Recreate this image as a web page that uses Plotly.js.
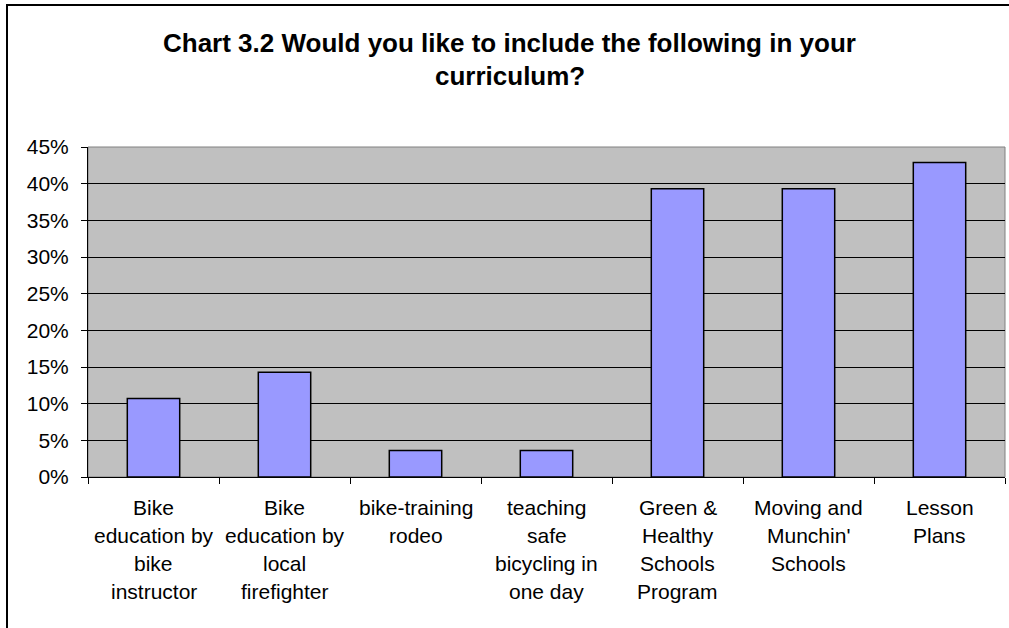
<!DOCTYPE html>
<html>
<head>
<meta charset="utf-8">
<script src="https://cdn.plot.ly/plotly-3.0.1.min.js"></script>
<style>
  html, body { margin: 0; padding: 0; overflow: hidden; background: #fff; }
  #wrap { position: relative; width: 1009px; height: 628px; overflow: hidden; }
  #chart { width: 1009px; height: 628px; }
  #frame { position: absolute; left: 6px; top: 4px; width: 1200px; height: 800px;
           border: 2px solid #000; pointer-events: none; }
</style>
</head>
<body>
<div id="wrap"><div id="chart"></div><div id="frame"></div></div>
<script>
const titleLines = ["Chart 3.2 Would you like to include the following in your", "curriculum?"];
const categories = [
  "Bike<br>education by<br>bike<br>instructor",
  "Bike<br>education by<br>local<br>firefighter",
  "bike-training<br>rodeo",
  "teaching<br>safe<br>bicycling in<br>one day",
  "Green &<br>Healthy<br>Schools<br>Program",
  "Moving and<br>Munchin'<br>Schools",
  "Lesson<br>Plans"
];
const values = [0.107, 0.143, 0.036, 0.036, 0.393, 0.393, 0.429];
const yTickVals = [0, 0.05, 0.10, 0.15, 0.20, 0.25, 0.30, 0.35, 0.40, 0.45];
const yTickText = ["0%", "5%", "10%", "15%", "20%", "25%", "30%", "35%", "40%", "45%"];

const FONT = "Liberation Sans, Arial, sans-serif";
const annotations = [];
// title lines
titleLines.forEach((t, j) => {
  annotations.push({
    text: "<b>" + t + "</b>", xref: "paper", yref: "paper", x: 0.46, y: 1,
    xanchor: "center", yanchor: "middle", yshift: 104 - j * 33, showarrow: false,
    font: { family: FONT, size: 26, color: "#000" }
  });
});
// category label lines
categories.forEach((c, i) => {
  c.split("<br>").forEach((line, j) => {
    annotations.push({
      text: line, xref: "x", yref: "paper", x: i, y: 0,
      xanchor: "center", yanchor: "middle", yshift: -30 - j * 28, showarrow: false,
      font: { family: FONT, size: 21, color: "#000" }
    });
  });
});

const trace = {
  type: "bar",
  x: categories.map((c, i) => i),
  y: values,
  marker: { color: "#9999FF", line: { color: "#000", width: 1.5 } },
  hoverinfo: "skip"
};

const layout = {
  width: 1009, height: 628,
  margin: { l: 88, r: 4, t: 147, b: 151 },
  paper_bgcolor: "#ffffff",
  plot_bgcolor: "#C0C0C0",
  showlegend: false,
  bargap: 0.6,
  font: { family: FONT, size: 21, color: "#000" },
  xaxis: {
    type: "linear", range: [-0.5, 6.5],
    tickvals: [-0.5, 0.5, 1.5, 2.5, 3.5, 4.5, 5.5, 6.5],
    showticklabels: false,
    ticks: "outside", ticklen: 6, tickcolor: "#000", tickwidth: 1,
    showgrid: false, zeroline: false,
    showline: true, linecolor: "#000", linewidth: 1
  },
  yaxis: {
    range: [0, 0.45],
    tickvals: yTickVals, ticktext: yTickText,
    ticks: "outside", ticklen: 6, tickcolor: "#000", tickwidth: 1,
    tickfont: { family: FONT, size: 21, color: "#000" },
    ticklabelstandoff: 8,
    showgrid: true, gridcolor: "#000", gridwidth: 1,
    zeroline: false,
    showline: true, linecolor: "#000", linewidth: 1
  },
  shapes: [{
    type: "rect", xref: "paper", yref: "paper", x0: 0, x1: 1, y0: 0, y1: 1,
    line: { color: "#808080", width: 1 }, layer: "below"
  }],
  annotations: annotations
};

Plotly.newPlot("chart", [trace], layout, { staticPlot: true, displayModeBar: false });
</script>
</body>
</html>
